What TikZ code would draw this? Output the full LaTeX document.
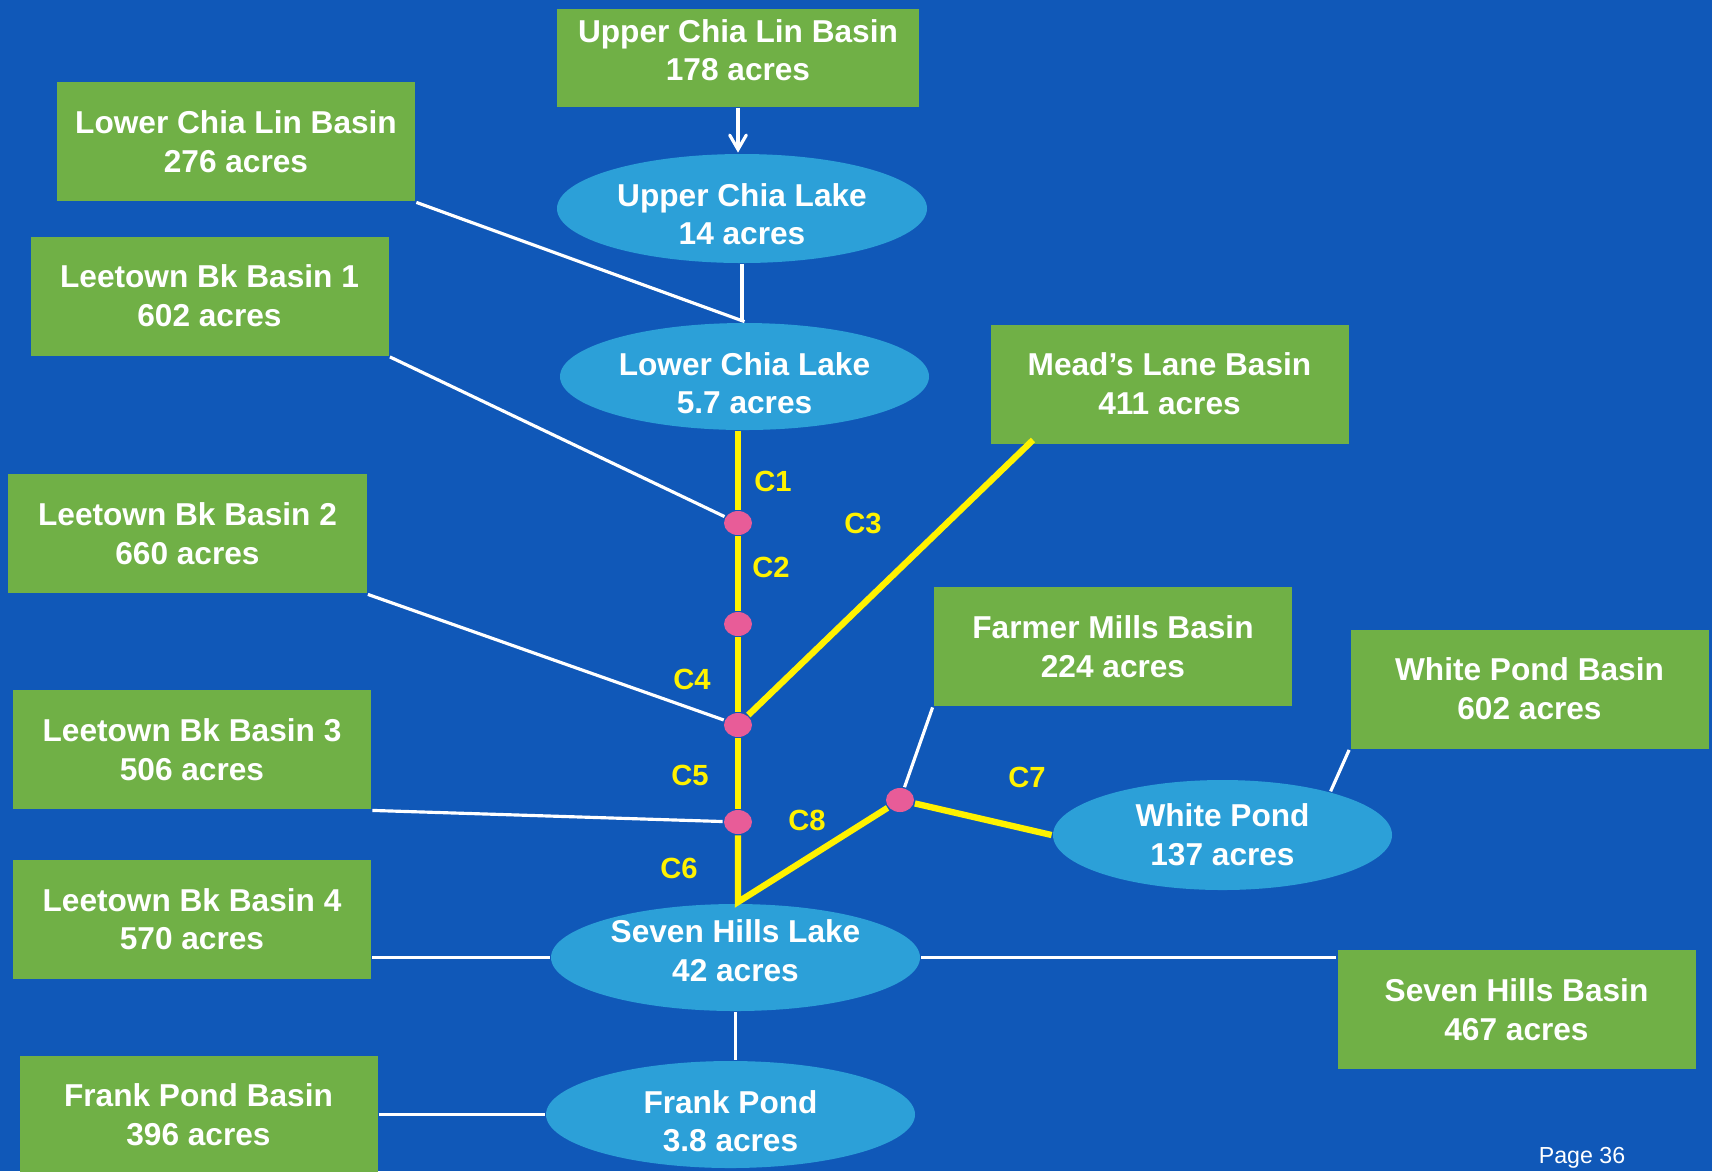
\documentclass[tikz,border=0pt]{standalone}
\usepackage{fontspec}
\setmainfont{Liberation Sans}
\usepackage{xcolor}
\usepackage{tikz}
\usetikzlibrary{shapes,arrows,positioning,calc,shapes.geometric}

\definecolor{bgblue}{RGB}{16,88,184}
\definecolor{boxgreen}{RGB}{112,176,70}
\definecolor{lakeblue}{RGB}{44,160,216}
\definecolor{cyellow}{RGB}{255,242,0}
\definecolor{dotpink}{RGB}{232,92,152}

\begin{document}
\begin{tikzpicture}[auto, thick]
% Define styles for different types of nodes
\tikzstyle{basin} = [rectangle, fill=boxgreen, text=white, font=\bfseries\fontsize{9}{11}\selectfont, align=center, minimum width=3.58cm, minimum height=1.19cm, inner sep=0pt]
\tikzstyle{lake} = [ellipse, fill=lakeblue, text=white, font=\bfseries\fontsize{9}{11}\selectfont, align=center, minimum width=3.69cm, minimum height=1.07cm, inner sep=0pt]
\tikzstyle{junction} = [ellipse, fill=dotpink, minimum width=0.28cm, minimum height=0.24cm, inner sep=0pt]
\tikzstyle{link} = [draw=white, line width=0.9pt]
\tikzstyle{channel} = [draw=cyellow, line width=1.8pt]
\tikzstyle{tag} = [text=cyellow, font=\bfseries\fontsize{8.3}{10}\selectfont]

% Background
\useasboundingbox (0,0) rectangle (17.12,-11.71);
\fill [bgblue] (0,0) rectangle (17.12,-11.71);

% Place basins
\node [basin, minimum width=3.62cm, minimum height=0.98cm] (upperbasin) at (7.38,-0.58) {Upper Chia Lin Basin\\178 acres\rule[-0.16cm]{0pt}{0pt}};
\node [basin] (lowerbasin) at (2.36,-1.415) {Lower Chia Lin Basin\\276 acres};
\node [basin] (leet1) at (2.095,-2.96) {Leetown Bk Basin 1\\602 acres};
\node [basin] (leet2) at (1.875,-5.335) {Leetown Bk Basin 2\\660 acres};
\node [basin] (leet3) at (1.92,-7.495) {Leetown Bk Basin 3\\506 acres};
\node [basin] (leet4) at (1.92,-9.19) {Leetown Bk Basin 4\\570 acres};
\node [basin] (frankbasin) at (1.985,-11.15) {Frank Pond Basin\\396 acres};
\node [basin] (meadbasin) at (11.695,-3.84) {Mead’s Lane Basin\\411 acres};
\node [basin] (farmerbasin) at (11.13,-6.465) {Farmer Mills Basin\\224 acres};
\node [basin] (whitebasin) at (15.295,-6.89) {White Pond Basin\\602 acres};
\node [basin] (sevenbasin) at (15.165,-10.095) {Seven Hills Basin\\467 acres};

% Place lakes
\node [lake, minimum width=3.70cm, minimum height=1.09cm] (upperlake) at (7.42,-2.085) {\rule{0pt}{0.34cm}Upper Chia Lake\\14 acres};
\node [lake] (lowerlake) at (7.445,-3.765) {\rule{0pt}{0.36cm}Lower Chia Lake\\5.7 acres};
\node [lake] (sevenlake) at (7.355,-9.575) {Seven Hills Lake\\42 acres\rule[-0.14cm]{0pt}{0pt}};
\node [lake] (frankpond) at (7.305,-11.145) {\rule{0pt}{0.36cm}Frank Pond\\3.8 acres};
\node [lake, minimum width=3.39cm, minimum height=1.10cm] (whitepond) at (12.225,-8.35) {White Pond\\137 acres};

% Junctions
\node [junction] (j1) at (7.38,-5.23) {};
\node [junction] (j2) at (7.38,-6.24) {};
\node [junction] (j3) at (7.38,-7.25) {};
\node [junction] (j4) at (7.38,-8.22) {};
\node [junction] (j5) at (9.00,-8.00) {};
\coordinate (c3end) at (10.33,-4.40);
\coordinate (c6end) at (7.38,-9.02);

% Connect basins with white lines
\path [link, -angle 60] (upperbasin.south) -- (upperbasin.south |- upperlake.north);
\path [link] (upperlake.south) -- (upperlake.south |- lowerlake.north);
\path [link] (lowerbasin.south east) -- (lowerlake.north);
\path [link] (leet1.south east) -- (j1);
\path [link] (leet2.south east) -- (j3);
\path [link] (leet3.south east) -- (j4);
\path [link] (sevenlake.west -| leet4.east) -- (sevenlake.west);
\path [link] (frankpond.west -| frankbasin.east) -- (frankpond.west);
\path [link] (sevenlake.south) -- (sevenlake.south |- frankpond.north);
\path [link] (sevenlake.east) -- (sevenlake.east -| sevenbasin.west);
\path [link] (farmerbasin.south west) -- (j5);
\path [link] (whitebasin.south west) -- (whitepond.22);

% Yellow channels
\path [channel] (lowerlake.south -| j1) -- (j1);
\path [channel] (j1) -- (j2);
\path [channel] (j2) -- (j3);
\path [channel] (j3) -- (j4);
\path [channel] (j3) -- (c3end);
\path [channel] (j4) -- (c6end) -- (j5);
\path [channel] (j5) -- (whitepond.west);

% Channel labels
\node [tag] (c1) at (7.73,-4.81) {C1};
\node [tag] (c2) at (7.71,-5.67) {C2};
\node [tag] (c3) at (8.63,-5.23) {C3};
\node [tag] (c4) at (6.92,-6.79) {C4};
\node [tag] (c5) at (6.90,-7.75) {C5};
\node [tag] (c6) at (6.79,-8.68) {C6};
\node [tag] (c7) at (10.27,-7.77) {C7};
\node [tag] (c8) at (8.07,-8.20) {C8};

\node [text=white, font=\fontsize{6.6}{8}\selectfont] (page) at (15.82,-11.58) {Page 36};
\end{tikzpicture}
\end{document}
